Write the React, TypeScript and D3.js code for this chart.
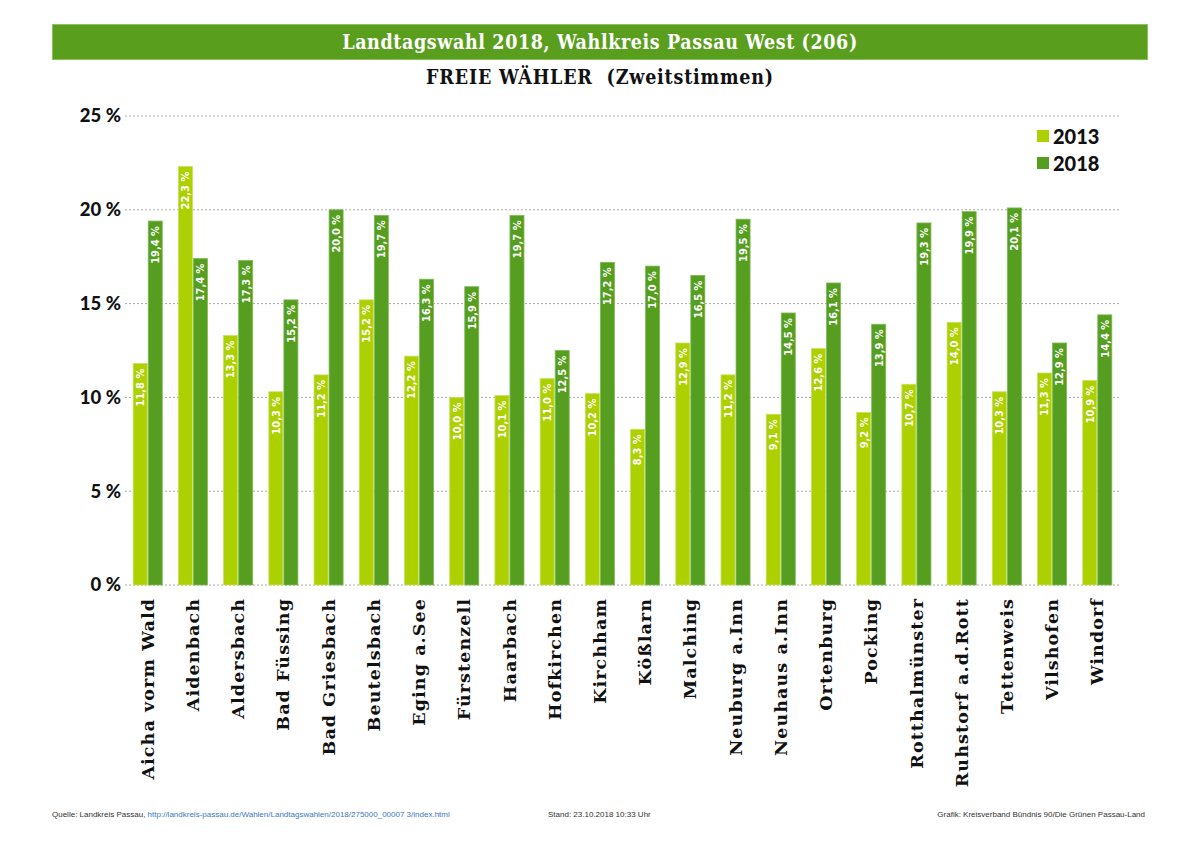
import React from "react";
import * as d3 from "d3";

const categories = [
  "Aicha vorm Wald", "Aidenbach", "Aldersbach", "Bad Füssing", "Bad Griesbach",
  "Beutelsbach", "Eging a.See", "Fürstenzell", "Haarbach", "Hofkirchen",
  "Kirchham", "Kößlarn", "Malching", "Neuburg a.Inn", "Neuhaus a.Inn",
  "Ortenburg", "Pocking", "Rotthalmünster", "Ruhstorf a.d.Rott", "Tettenweis",
  "Vilshofen", "Windorf",
];
const values2013 = [11.8, 22.3, 13.3, 10.3, 11.2, 15.2, 12.2, 10.0, 10.1, 11.0, 10.2, 8.3, 12.9, 11.2, 9.1, 12.6, 9.2, 10.7, 14.0, 10.3, 11.3, 10.9];
const values2018 = [19.4, 17.4, 17.3, 15.2, 20.0, 19.7, 16.3, 15.9, 19.7, 12.5, 17.2, 17.0, 16.5, 19.5, 14.5, 16.1, 13.9, 19.3, 19.9, 20.1, 12.9, 14.4];
const seriesNames = ["2013", "2018"];
const yTicks = [0, 5, 10, 15, 20, 25];

const title = "Landtagswahl 2018, Wahlkreis Passau West (206)";
const subtitle = "FREIE WÄHLER  (Zweitstimmen)";
const sourceLabel = "Quelle: Landkreis Passau, ";
const sourceUrl = "http://landkreis-passau.de/Wahlen/Landtagswahlen/2018/275000_00007 3/index.html";
const standLabel = "Stand: 23.10.2018 10:33 Uhr";
const creditLabel = "Grafik: Kreisverband Bündnis 90/Die Grünen Passau-Land";

const W = 1200;
const H = 848;
const colors = ["#add000", "#559e1f"];
const strokes = ["#c8e060", "#7fbb55"];

export default function App() {
  const x0 = d3.scaleBand<string>().domain(categories).range([125, 1120]).paddingInner(0.335).paddingOuter(0.17);
  const x1 = d3.scaleBand<string>().domain(seriesNames).range([0, x0.bandwidth()]);
  const y = d3.scaleLinear().domain([0, 25]).range([585, 116]);
  const fmt = (v: number) => d3.format(".1f")(v).replace(".", ",") + " %";
  const series = [values2013, values2018];

  return (
    <div style={{ position: "absolute", left: 0, top: 0, width: W, height: H, background: "#fff" }}>
      <svg width={W} height={H} style={{ display: "block" }}>
        <rect x={0} y={0} width={W} height={H} fill="#fff" />
        {/* header band */}
        <rect x={52.5} y={24.5} width={1095} height={35} fill="#5a9e1e" stroke="#8cc060" strokeWidth={1} />
        <text x={600} y={48.5} textAnchor="middle" fill="#fff" fontFamily="'DejaVu Serif', serif" fontStretch="condensed" fontWeight="bold" fontSize={19.5} letterSpacing={0.6}>
          {title}
        </text>
        <text x={600} y={84} textAnchor="middle" fill="#111" fontFamily="'DejaVu Serif', serif" fontStretch="condensed" fontWeight="bold" fontSize={19.5} letterSpacing={0.8} style={{ whiteSpace: "pre" }}>
          {subtitle}
        </text>

        {/* grid + y ticks */}
        {yTicks.map((t) => (
          <g key={t}>
            <line x1={125} x2={1120} y1={y(t)} y2={y(t)} stroke="#aaa" strokeWidth={1} strokeDasharray="2,2" />
            <text x={121} y={y(t)} dy="0.35em" textAnchor="end" fontFamily="Lato, sans-serif" fontWeight={900} fontSize={18.5} fill="#111">
              {t} %
            </text>
          </g>
        ))}

        {/* bars */}
        {categories.map((c, i) => (
          <g key={c} transform={`translate(${x0(c)},0)`}>
            {series.map((s, k) => {
              const bx = x1(seriesNames[k])!;
              const bw = x1.bandwidth();
              const top = y(s[i]);
              return (
                <g key={k}>
                  <rect x={bx + 0.5} y={top} width={bw - 1} height={y(0) - top} fill={colors[k]} stroke={strokes[k]} strokeWidth={0.8} />
                  <text
                    transform={`translate(${bx + bw / 2},${top + 5}) rotate(-90)`}
                    textAnchor="end"
                    dy="0.35em"
                    fill="#fff"
                    fontFamily="'Liberation Sans Narrow', 'DejaVu Sans', sans-serif"
                    fontStretch="condensed"
                    fontWeight="bold"
                    fontSize={11}
                  >
                    {fmt(s[i])}
                  </text>
                </g>
              );
            })}
            <text
              transform={`translate(${x0.bandwidth() / 2},598) rotate(-90)`}
              textAnchor="end"
              dy="0.35em"
              fill="#111"
              fontFamily="'DejaVu Serif', serif"
              fontWeight="bold"
              fontSize={17.5}
              letterSpacing={1.1}
            >
              {c}
            </text>
          </g>
        ))}

        {/* legend */}
        {seriesNames.map((n, k) => (
          <g key={n} transform={`translate(1037,${130 + k * 27})`}>
            <rect x={0} y={0} width={12} height={12} fill={colors[k]} />
            <text x={16} y={6} dy="0.38em" fontFamily="Lato, 'Liberation Sans', sans-serif" fontWeight={900} fontSize={20} fill="#111">
              {n}
            </text>
          </g>
        ))}

        {/* footer */}
        <text x={52} y={817} fontFamily="'Liberation Sans Narrow', 'Liberation Sans', sans-serif" fontSize={8} fill="#333">
          {sourceLabel}
          <tspan fill="#3b78c4">{sourceUrl}</tspan>
        </text>
        <text x={548} y={817} fontFamily="'Liberation Sans Narrow', 'Liberation Sans', sans-serif" fontSize={8} fill="#333">
          {standLabel}
        </text>
        <text x={1145} y={817} textAnchor="end" fontFamily="'Liberation Sans Narrow', 'Liberation Sans', sans-serif" fontSize={8} fill="#333">
          {creditLabel}
        </text>
      </svg>
    </div>
  );
}
